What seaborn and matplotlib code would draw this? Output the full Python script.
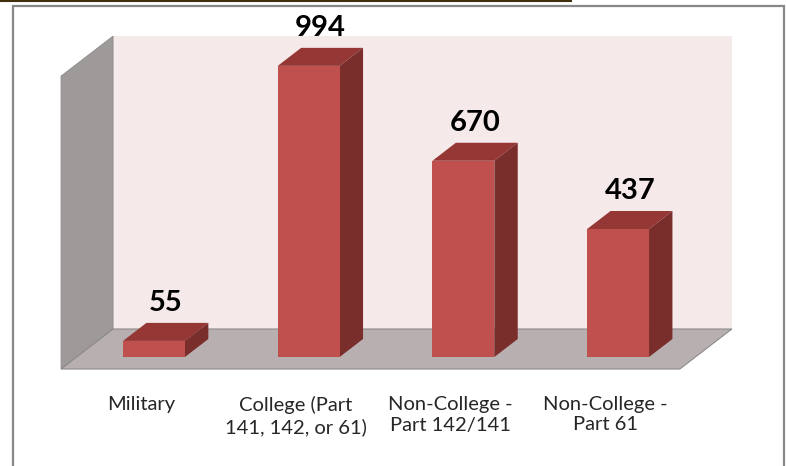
import pandas as pd
import seaborn as sns
import matplotlib.pyplot as plt
from matplotlib.patches import Polygon, Rectangle
from matplotlib.lines import Line2D
from matplotlib.transforms import IdentityTransform

categories = ["Military", "College (Part\n141, 142, or 61)",
              "Non-College -\nPart 142/141", "Non-College -\nPart 61"]
counts = [55, 994, 670, 437]

FRONT = "#c0504d"
TOP = "#953735"
SIDE = "#7a2e2c"
WALL_BACK = "#f5e9e9"
WALL_LEFT = "#9f9a9a"
FLOOR = "#b8b0b0"

W, H = 786, 466
K = 1.3  # oblique projection: x shift per pixel of depth

fig = plt.figure(figsize=(W / 100, H / 100), dpi=100)
ax = fig.add_axes([76.65 / W, (H - 357) / H, 618.8 / W, 292.9 / H])

df = pd.DataFrame({"cat": categories, "n": counts})
sns.barplot(data=df, x="cat", y="n", order=categories, color=FRONT,
            saturation=1, width=0.4, linewidth=0, ax=ax, zorder=3)
ax.set_xlim(-0.5, 3.5)
ax.set_ylim(0, 1000)
ax.set_autoscale_on(False)
ax.axis("off")


def px(x, y, d):
    a, b = ax.transData.transform((x, y))
    return (a + K * d, b + d)


def face(pts, color, z, edge="none", lw=0):
    ax.add_patch(Polygon(pts, closed=True, transform=IdentityTransform(),
                         facecolor=color, edgecolor=edge, lw=lw,
                         zorder=z, clip_on=False))


x0, x1 = ax.get_xlim()
top = ax.get_ylim()[1]
front_d, back_d, bar_d = -12, 28, 18

# walls and floor
face([px(x0, 0, back_d), px(x1, 0, back_d), px(x1, top, back_d), px(x0, top, back_d)],
     WALL_BACK, 0.5)
face([px(x0, 0, front_d), px(x0, 0, back_d), px(x0, top, back_d), px(x0, top, front_d)],
     WALL_LEFT, 0.6, edge="#8e8a8a", lw=0.6)
face([px(x0, 0, front_d), px(x1, 0, front_d), px(x1, 0, back_d), px(x0, 0, back_d)],
     FLOOR, 0.7, edge="#8e8a8a", lw=0.8)

# 3d faces of bars from the seaborn rectangles
for p in ax.patches[:len(counts)]:
    bx, bw, bh = p.get_x(), p.get_width(), p.get_height()
    face([px(bx, bh, 0), px(bx + bw, bh, 0), px(bx + bw, bh, bar_d), px(bx, bh, bar_d)],
         TOP, 2.9)
    face([px(bx + bw, 0, 0), px(bx + bw, 0, bar_d), px(bx + bw, bh, bar_d), px(bx + bw, bh, 0)],
         SIDE, 2.9)

for i, v in enumerate(counts):
    ax.annotate(str(v), xy=(i, v), xytext=(K * bar_d / 2, bar_d + 12),
                textcoords="offset pixels", ha="center", va="baseline",
                fontsize=21, fontweight="bold", family="Lato", color="black")
    ax.annotate(categories[i], xy=(i, 0), xytext=(-13, -39),
                textcoords="offset pixels", ha="center", va="top",
                fontsize=14.5, family="Lato", color="#262626",
                linespacing=1.25, multialignment="center")

# frame and top rule
fig.add_artist(Rectangle((13 / W, -0.1), (784 - 13) / W, (H - 6) / H + 0.1,
                         transform=fig.transFigure, fill=False,
                         edgecolor="#888888", lw=1.6))
fig.add_artist(Line2D([0, 571 / W], [1 - 1 / H] * 2, transform=fig.transFigure,
                      color="#3f2f0f", lw=1.5))

fig.savefig("out.png", dpi=100)
